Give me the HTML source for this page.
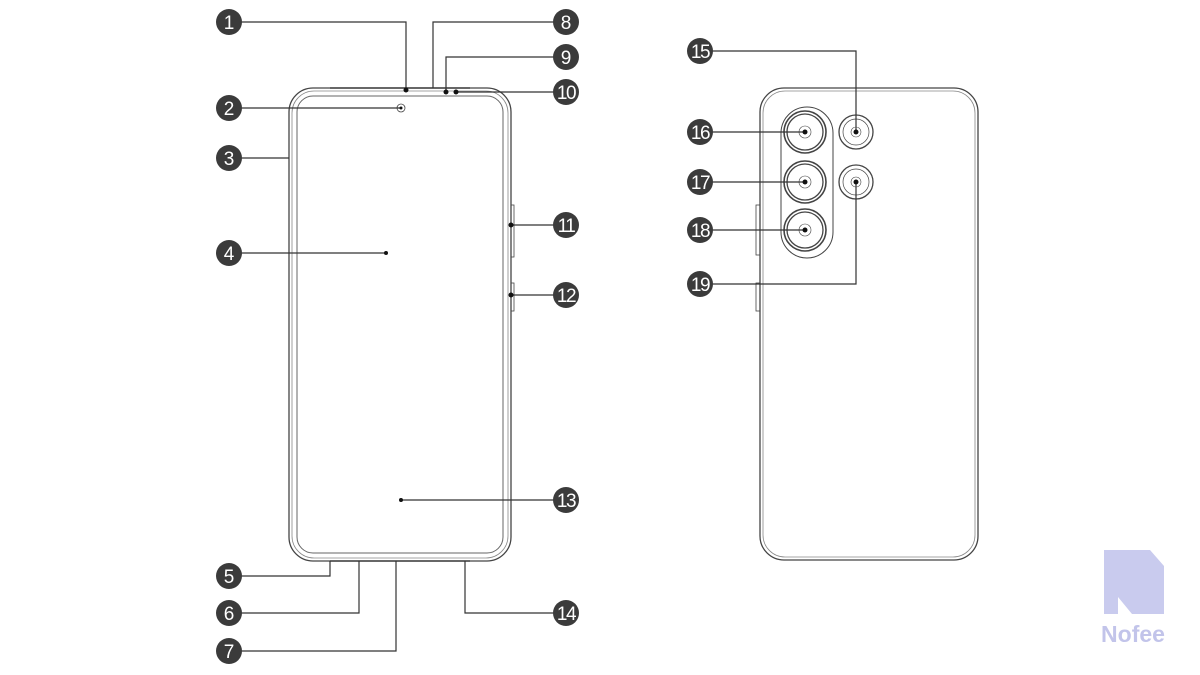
<!DOCTYPE html>
<html><head><meta charset="utf-8"><style>
html,body{margin:0;padding:0;background:#fff;}
svg{display:block}
text{font-family:"Liberation Sans",sans-serif;}
</style></head><body>
<svg width="1200" height="675" viewBox="0 0 1200 675" xmlns="http://www.w3.org/2000/svg">
<g fill="none" stroke="#444" stroke-width="1.3">
<!-- front phone -->
<rect x="289" y="88" width="222" height="473" rx="24"/>
<rect x="292" y="91" width="216" height="467" rx="22" stroke="#888" stroke-width="0.8"/>
<rect x="297" y="96" width="206" height="457" rx="16" stroke="#666" stroke-width="1"/>
<line x1="330" y1="88" x2="470" y2="88" stroke-width="1.6"/>
<line x1="330" y1="561" x2="470" y2="561" stroke-width="1.6"/>
<circle cx="401" cy="108" r="4" stroke-width="0.8"/>
<rect x="511" y="205" width="3" height="52" stroke-width="0.8"/>
<rect x="511" y="283" width="3" height="28" stroke-width="0.8"/>
<!-- back phone -->
<rect x="760" y="88" width="218" height="472" rx="24"/>
<rect x="763" y="91" width="212" height="466" rx="22" stroke="#888" stroke-width="0.8"/>
<rect x="756" y="205" width="4" height="50" stroke-width="0.8"/>
<rect x="756" y="283" width="4" height="28" stroke-width="0.8"/>
<rect x="781" y="107" width="52" height="151" rx="26" stroke-width="1"/>
<circle cx="805" cy="132" r="21" stroke-width="1.6"/><circle cx="805" cy="132" r="18"/><circle cx="805" cy="132" r="6" stroke-width="0.6"/>
<circle cx="805" cy="182" r="21" stroke-width="1.6"/><circle cx="805" cy="182" r="18"/><circle cx="805" cy="182" r="6" stroke-width="0.6"/>
<circle cx="805" cy="230" r="21" stroke-width="1.6"/><circle cx="805" cy="230" r="18"/><circle cx="805" cy="230" r="6" stroke-width="0.6"/>
<circle cx="856" cy="132" r="17"/><circle cx="856" cy="132" r="13" stroke-width="0.7"/><circle cx="856" cy="132" r="5" stroke-width="0.6"/>
<circle cx="856" cy="182" r="17"/><circle cx="856" cy="182" r="13" stroke-width="0.7"/><circle cx="856" cy="182" r="5" stroke-width="0.6"/>
</g>
<!-- leader lines -->
<g fill="none" stroke="#333" stroke-width="1.2">
<polyline points="229,22 406,22 406,90"/>
<polyline points="566,22 433,22 433,88"/>
<polyline points="566,57 446,57 446,92"/>
<polyline points="566,92 456,92"/>
<polyline points="229,108 401,108"/>
<polyline points="229,158 289,158"/>
<polyline points="229,253 386,253"/>
<polyline points="229,576 330,576 330,561"/>
<polyline points="229,613 359,613 359,561"/>
<polyline points="229,651 396,651 396,561"/>
<polyline points="566,613 465,613 465,561"/>
<polyline points="566,225 511,225"/>
<polyline points="566,295 511,295"/>
<polyline points="566,500 401,500"/>
<polyline points="700,51 856,51 856,132"/>
<polyline points="700,132 805,132"/>
<polyline points="700,182 805,182"/>
<polyline points="700,230 805,230"/>
<polyline points="700,284 856,284 856,182"/>
</g>
<g fill="#111">
<circle cx="406" cy="90" r="2.5"/><circle cx="446" cy="92" r="2.5"/><circle cx="456" cy="92" r="2.5"/>
<circle cx="401" cy="108" r="1.5"/><circle cx="386" cy="253" r="2"/><circle cx="401" cy="500" r="2"/>
<circle cx="511" cy="225" r="2.5"/><circle cx="511" cy="295" r="2.5"/>
<circle cx="805" cy="132" r="2.5"/><circle cx="805" cy="182" r="2.5"/><circle cx="805" cy="230" r="2.5"/>
<circle cx="856" cy="132" r="2.5"/><circle cx="856" cy="182" r="2.5"/>
</g>
<!-- badges -->
<g fill="#3b3b3b">
<circle cx="229" cy="22" r="13"/><circle cx="229" cy="108" r="13"/><circle cx="229" cy="158" r="13"/><circle cx="229" cy="253" r="13"/>
<circle cx="229" cy="576" r="13"/><circle cx="229" cy="613" r="13"/><circle cx="229" cy="651" r="13"/>
<circle cx="566" cy="22" r="13"/><circle cx="566" cy="57" r="13"/><circle cx="566" cy="92" r="13"/><circle cx="566" cy="225" r="13"/>
<circle cx="566" cy="295" r="13"/><circle cx="566" cy="500" r="13"/><circle cx="566" cy="613" r="13"/>
<circle cx="700" cy="51" r="13"/><circle cx="700" cy="132" r="13"/><circle cx="700" cy="182" r="13"/><circle cx="700" cy="230" r="13"/><circle cx="700" cy="284" r="13"/>
</g>
<g fill="#fff" font-size="19" text-anchor="middle">
<text x="229" y="29">1</text><text x="229" y="115">2</text><text x="229" y="165">3</text><text x="229" y="260">4</text>
<text x="229" y="583">5</text><text x="229" y="620">6</text><text x="229" y="658">7</text>
<text x="566" y="29">8</text><text x="566" y="64">9</text>
<text x="566" y="99" letter-spacing="-1.5">10</text><text x="566" y="232" letter-spacing="-1.5">11</text>
<text x="566" y="302" letter-spacing="-1.5">12</text><text x="566" y="507" letter-spacing="-1.5">13</text><text x="566" y="620" letter-spacing="-1.5">14</text>
<text x="700" y="58" letter-spacing="-1.5">15</text><text x="700" y="139" letter-spacing="-1.5">16</text><text x="700" y="189" letter-spacing="-1.5">17</text>
<text x="700" y="237" letter-spacing="-1.5">18</text><text x="700" y="291" letter-spacing="-1.5">19</text>
</g>
<!-- logo -->
<path d="M1104,550 H1150 L1164,566 V614 H1132 L1118,597 V614 H1104 Z" fill="#c9cbee"/>
<text x="1133" y="642" font-size="23" font-weight="bold" fill="#c2c4ea" text-anchor="middle">Nofee</text>
</svg>
</body></html>
